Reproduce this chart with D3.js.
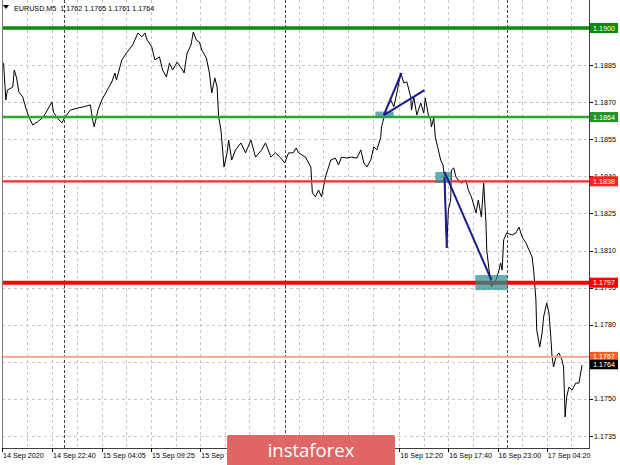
<!DOCTYPE html>
<html><head><meta charset="utf-8">
<script src="https://cdn.jsdelivr.net/npm/d3@7"></script>
<style>body{margin:0;background:#fff}svg{display:block}</style></head>
<body><svg id="c" width="620" height="465"></svg>
<script>
// ---- data (day-of-Sep 2020 + time, M5 closes) ----
const times = [
"14 17:25","14 17:40","14 17:50","14 18:25","14 18:35","14 18:50","14 19:05","14 19:30","14 19:50","14 20:10","14 20:35","14 21:05","14 21:45","14 22:10","14 22:40","14 22:50","14 23:15","14 23:45",
"15 00:05","15 00:40","15 01:25","15 02:05","15 02:50","15 03:05","15 03:15","15 03:40","15 04:05","15 04:40","15 05:10","15 05:30","15 05:40","15 06:15","15 06:45","15 07:25","15 08:00","15 08:25","15 08:45","15 09:00","15 09:30","15 09:50","15 10:20","15 10:40","15 11:05","15 11:25","15 11:45","15 12:15","15 12:50","15 13:00","15 13:20","15 13:45","15 14:00","15 14:20","15 14:40","15 14:55","15 15:25","15 15:45","15 16:00","15 16:20","15 16:35","15 16:45","15 17:00","15 17:20","15 17:40","15 17:50","15 18:10","15 18:35","15 19:10","15 19:40","15 20:15","15 20:45","15 21:25","15 21:50","15 22:25","15 22:55","15 23:30","15 23:55",
"16 00:20","16 00:50","16 01:10","16 01:25","16 02:10","16 02:45","16 02:55","16 03:15","16 03:35","16 03:55","16 04:20","16 04:55","16 05:25","16 05:45","16 06:05","16 06:40","16 07:10","16 07:45","16 08:10","16 08:30","16 08:50","16 09:15","16 09:35","16 09:55","16 10:20","16 10:25","16 10:45","16 11:00","16 11:25","16 11:45","16 12:05","16 12:30","16 12:50","16 13:10","16 13:35","16 13:40","16 13:55","16 14:15","16 14:40","16 15:00","16 15:10","16 15:30","16 15:45","16 15:50","16 16:05","16 16:15","16 16:35","16 16:50","16 17:05","16 17:15","16 17:30","16 17:40","16 17:55","16 18:00","16 18:15","16 18:30","16 18:45","16 19:05","16 19:35","16 19:50","16 20:10","16 20:40","16 20:55","16 21:15","16 21:30","16 21:45","16 21:50","16 22:05","16 22:15","16 22:20","16 22:50","16 23:10","16 23:20","16 23:30","16 23:40",
"17 00:00","17 00:35","17 01:00","17 01:20","17 01:40","17 02:05","17 02:25","17 02:45","17 02:55","17 03:10","17 03:15","17 03:35","17 03:50","17 04:00","17 04:20","17 04:35","17 04:45","17 04:55","17 05:05","17 05:20","17 05:40","17 06:00","17 06:10","17 06:20","17 06:30","17 06:45","17 07:05","17 07:30","17 07:50","17 08:10"];
const closes = [
1.18858,1.18709,1.18749,1.18761,1.18830,1.18798,1.18741,1.18721,1.18676,1.18640,1.18608,1.18620,1.18640,1.18668,1.18701,1.18660,1.18636,1.18616,
1.18640,1.18668,1.18676,1.18681,1.18689,1.18628,1.18600,1.18668,1.18709,1.18749,1.18782,1.18818,1.18790,1.18871,1.18899,1.18931,1.18980,1.18964,1.18980,1.18951,1.18923,1.18871,1.18883,1.18830,1.18802,1.18858,1.18830,1.18862,1.18830,1.18818,1.18899,1.18931,1.18984,1.18951,1.18943,1.18911,1.18879,1.18818,1.18737,1.18798,1.18761,1.18640,1.18588,1.18438,1.18495,1.18547,1.18466,1.18507,1.18535,1.18495,1.18547,1.18478,1.18507,1.18535,1.18478,1.18495,1.18474,1.18454,
1.18495,1.18495,1.18515,1.18495,1.18478,1.18438,1.18333,1.18317,1.18345,1.18317,1.18397,1.18466,1.18474,1.18446,1.18478,1.18474,1.18478,1.18474,1.18507,1.18454,1.18438,1.18466,1.18519,1.18507,1.18559,1.18600,1.18648,1.18676,1.18709,1.18681,1.18737,1.18818,1.18778,1.18782,1.18721,1.18668,1.18721,1.18648,1.18697,1.18656,1.18717,1.18648,1.18628,1.18600,1.18636,1.18559,1.18507,1.18466,1.18446,1.18397,1.18114,1.18264,1.18304,1.18426,1.18434,1.18397,1.18385,1.18373,1.18385,1.18345,1.18317,1.18252,1.18304,1.18236,1.18373,1.18211,1.18102,1.18021,1.17981,1.17953,1.17981,1.18021,1.18050,1.18021,1.18143,
1.18171,1.18163,1.18171,1.18195,1.18155,1.18131,1.18102,1.18074,1.18021,1.17900,1.17779,1.17710,1.17767,1.17831,1.17888,1.17847,1.17767,1.17670,1.17629,1.17670,1.17686,1.17657,1.17629,1.17427,1.17508,1.17548,1.17536,1.17564,1.17564,1.17637];

const priceTicks = [1.1900,1.1885,1.1870,1.1855,1.1840,1.1825,1.1810,1.1795,1.1780,1.1765,1.1750,1.1735];
const timeTicks = ["14 17:15","14 22:40","15 04:05","15 09:25","15 14:45","15 20:05","16 01:25","16 06:45","16 12:20","16 17:40","16 23:00","17 04:20"];
const timeTickLabels = ["14 Sep 2020","14 Sep 22:40","15 Sep 04:05","15 Sep 09:25","15 Sep 14:45","15 Sep 20:05","16 Sep 01:25","16 Sep 06:45","16 Sep 12:20","16 Sep 17:40","16 Sep 23:00","17 Sep 04:20"];
const daySeparators = ["15 00:00","16 00:00","17 00:00"];
const levelPrices = [1.1900,1.1864,1.1838,1.1797,1.1767];
const lastPrice = 1.1764;
const headerParts = ["EURUSD,M5","1.1762","1.1765","1.1761","1.1764"];
// drawn trend lines: start/end time & price
const trendT0 = ["16 10:40","16 10:40","16 17:15","16 17:15"];
const trendP0 = [1.18648,1.18648,1.18418,1.18397];
const trendT1 = ["16 12:35","16 15:05","16 22:20","16 17:30"];
const trendP1 = [1.18818,1.18749,1.17981,1.18110];
// drawn zones
const zoneT0 = ["16 09:45","16 16:15","16 20:35"];
const zoneT1 = ["16 11:45","16 18:00","17 00:05"];
const zoneHi = [1.18662,1.18418,1.18001];
const zoneLo = [1.18640,1.18373,1.17940];
const xDomain = ["14 17:15","17 09:00"];
const yDomain = [1.1735,1.1900];

// ---- styles ----
const levelStyle = [
  {c:"#0b8a0b", w:3.5, box:"#0b8a0b"},
  {c:"#2fa52f", w:2.5, box:"#1f961f"},
  {c:"#ff2a2a", w:2.2, box:"#ff2020"},
  {c:"#ff0000", w:4,   box:"#ff0000"},
  {c:"#f7a27c", w:1.6, box:"#ff5b1d"}
];
const FONT = "'Liberation Sans', Arial, sans-serif";
const logoBox = {x:227, y:435, w:168, h:32};

const parse = s => d3.timeParse("%Y-%m-%d %H:%M")("2020-09-" + s);
const svg = d3.select("#c");
const L = 2, R = 589, T = 0, B = 448;
const x = d3.scaleTime().domain(xDomain.map(parse)).range([L, 589.7]);
const y = d3.scaleLinear().domain(yDomain).range([436, 28]);

svg.append("rect").attr("width",620).attr("height",465).attr("fill","#fff");

// horizontal grid
svg.append("g").selectAll("line").data(priceTicks).join("line")
  .attr("x1",L).attr("x2",R).attr("y1",d=>Math.round(y(d))+0.5).attr("y2",d=>Math.round(y(d))+0.5)
  .attr("stroke","#c6c6c6").attr("stroke-dasharray","3,3").attr("stroke-width",1);

// vertical grid: at time ticks and midway between them
const tickX = timeTicks.map(t => x(parse(t)));
const gridX = [];
tickX.forEach((v,i)=>{ gridX.push(v); if(i<tickX.length-1) gridX.push((v+tickX[i+1])/2); else gridX.push(v+(v-tickX[i-1])/2); });
svg.append("g").selectAll("line").data(gridX.filter(v=>v>L+3 && v<R-1)).join("line")
  .attr("x1",d=>Math.round(d)+0.5).attr("x2",d=>Math.round(d)+0.5).attr("y1",T).attr("y2",B)
  .attr("stroke","#c6c6c6").attr("stroke-dasharray","3,3").attr("stroke-width",1);

// day separators
svg.append("g").selectAll("line").data(daySeparators).join("line")
  .attr("x1",d=>Math.round(x(parse(d)))+0.5).attr("x2",d=>Math.round(x(parse(d)))+0.5).attr("y1",T).attr("y2",B)
  .attr("stroke","#404040").attr("stroke-dasharray","3,2").attr("stroke-width",1);

// price line
const series = times.map((t,i)=>({t:parse(t), p:closes[i]}));
svg.append("path").datum(series)
  .attr("d", d3.line().x(d=>x(d.t)).y(d=>y(d.p)))
  .attr("fill","none").attr("stroke","#000").attr("stroke-width",1);

// level lines
svg.append("g").selectAll("line").data(levelPrices).join("line")
  .attr("x1",L).attr("x2",R).attr("y1",d=>y(d)).attr("y2",d=>y(d))
  .attr("stroke",(d,i)=>levelStyle[i].c).attr("stroke-width",(d,i)=>levelStyle[i].w);

// zones
svg.append("g").selectAll("rect").data(zoneT0).join("rect")
  .attr("x",(d,i)=>x(parse(d))).attr("width",(d,i)=>x(parse(zoneT1[i]))-x(parse(d)))
  .attr("y",(d,i)=>y(zoneHi[i])).attr("height",(d,i)=>y(zoneLo[i])-y(zoneHi[i]))
  .attr("fill","#2b8f8f").attr("fill-opacity",0.72);

// trend lines
svg.append("g").selectAll("line").data(trendT0).join("line")
  .attr("x1",d=>x(parse(d))).attr("y1",(d,i)=>y(trendP0[i]))
  .attr("x2",(d,i)=>x(parse(trendT1[i]))).attr("y2",(d,i)=>y(trendP1[i]))
  .attr("stroke","#1c1c8c").attr("stroke-width",2);

// frame
svg.append("line").attr("x1",L+0.5).attr("x2",L+0.5).attr("y1",T).attr("y2",B).attr("stroke","#7a7a7a");
svg.append("line").attr("x1",R+0.5).attr("x2",R+0.5).attr("y1",T).attr("y2",B+1).attr("stroke","#404040");
svg.append("line").attr("x1",L).attr("x2",R+1).attr("y1",B+0.5).attr("y2",B+0.5).attr("stroke","#404040");

// price axis (labels fully covered by a level box are not drawn)
const boxYs = levelPrices.map(y).concat([y(lastPrice)]);
const ya = svg.append("g");
ya.selectAll("line").data(priceTicks).join("line")
  .attr("x1",R).attr("x2",R+4).attr("y1",d=>Math.round(y(d))+0.5).attr("y2",d=>Math.round(y(d))+0.5).attr("stroke","#000");
ya.selectAll("text").data(priceTicks.filter(p => boxYs.every(b => Math.abs(b - y(p)) >= 4))).join("text")
  .attr("x",594).attr("y",d=>y(d)).attr("dy","0.35em")
  .attr("font-family",FONT).attr("font-size",7.2).attr("fill","#000")
  .text(d=>d3.format(".4f")(d));

// time axis (labels entirely behind the logo are not drawn)
const xa = svg.append("g");
xa.selectAll("line").data(timeTicks).join("line")
  .attr("x1",d=>Math.round(x(parse(d)))+0.5).attr("x2",d=>Math.round(x(parse(d)))+0.5)
  .attr("y1",B).attr("y2",B+4).attr("stroke","#000");
const shownLabels = timeTickLabels.map((d,i)=>({d, xx:Math.max(3, tickX[i]+1)}))
  .filter(o => !(o.xx > logoBox.x && o.xx + 40 < logoBox.x + logoBox.w));
xa.selectAll("text").data(shownLabels).join("text")
  .attr("x",o=>o.xx).attr("y",458)
  .attr("font-family",FONT).attr("font-size",7.2).attr("fill","#000").text(o=>o.d);

// level labels on axis
const lb = svg.append("g");
lb.selectAll("rect").data(levelPrices).join("rect")
  .attr("x",590).attr("y",d=>y(d)-5).attr("width",28).attr("height",10)
  .attr("fill",(d,i)=>levelStyle[i].box);
lb.selectAll("text").data(levelPrices).join("text")
  .attr("x",593).attr("y",d=>y(d)).attr("dy","0.35em")
  .attr("font-family",FONT).attr("font-size",7.2).attr("fill","#fff")
  .text(d=>d3.format(".4f")(d));
svg.append("rect").attr("x",590).attr("y",y(lastPrice)-4.5).attr("width",28).attr("height",9.5).attr("fill","#000");
svg.append("text").attr("x",593).attr("y",y(lastPrice)).attr("dy","0.35em")
  .attr("font-family",FONT).attr("font-size",7.2).attr("fill","#fff").text(d3.format(".4f")(lastPrice));

// header
svg.append("path").attr("d","M3,5L9,5L6,9Z").attr("fill","#000");
svg.append("text").attr("x",14).attr("y",10.5).attr("font-family",FONT).attr("font-size",7.2).attr("fill","#000")
  .attr("xml:space","preserve").text(headerParts[0] + "  " + headerParts.slice(1).join(" "));

// logo
svg.append("rect").attr("x",logoBox.x).attr("y",logoBox.y).attr("width",logoBox.w).attr("height",logoBox.h).attr("rx",2).attr("fill","#e06565");
svg.append("text").attr("x",311).attr("y",456.5).attr("text-anchor","middle")
  .attr("font-family","'Open Sans', sans-serif").attr("font-size",18.5).attr("fill","#fff").text("instaforex");
</script></body></html>
